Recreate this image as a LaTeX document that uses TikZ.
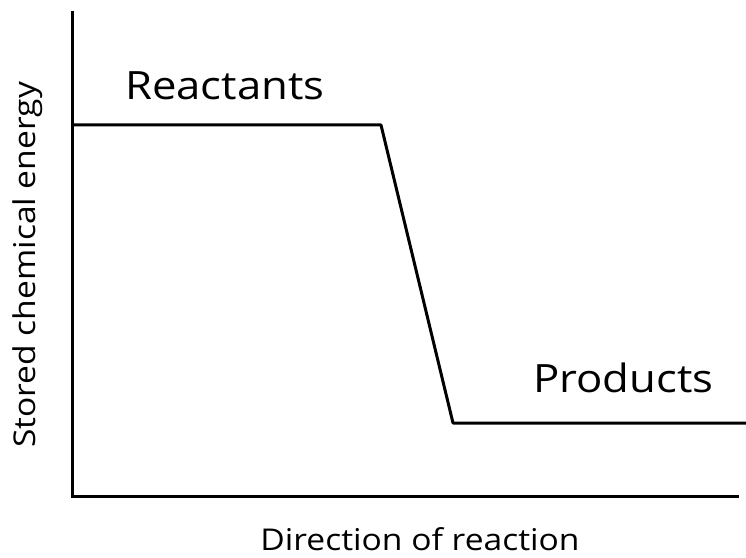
\documentclass[tikz,border=0pt]{standalone}
\usepackage{fontspec}
\setmainfont{Open Sans}[Ligatures=NoCommon,FakeStretch=1.12]
\tikzset{
  axis/.style={line width=3pt,line cap=rect},
  level/.style={line width=3pt,line join=round},
  lbl/.style={inner sep=0pt,font=\fontsize{39}{42}\selectfont},
  axlbl/.style={inner sep=0pt,font=\fontsize{30}{34}\selectfont}
}
\begin{document}
\begin{tikzpicture}[x=1pt,y=1pt]
\useasboundingbox (0,0) rectangle (746,557);
\coordinate (O) at (72,61);%原点
\coordinate (ytop) at (72,544);
\coordinate (xend) at (737,61);
\draw[axis](ytop)--(O)--(xend);%軸
\coordinate (r0) at (72,432);
\coordinate (r1) at (381,432);
\coordinate (p0) at (453,134);
\coordinate (p1) at (746,134);
\draw[level](r0)--(r1)--(p0)--(p1);%エネルギー
\node[lbl,anchor=base west] (reac) at (125,457) {Reactants};
\node[lbl,anchor=base west] (prod) at (533,165) {Products};
\node[axlbl] (xlbl) at (420,18) {Direction of reaction};
\node[axlbl,rotate=90] (ylbl) at (28,292) {Stored chemical energy};
\end{tikzpicture}
\end{document}
